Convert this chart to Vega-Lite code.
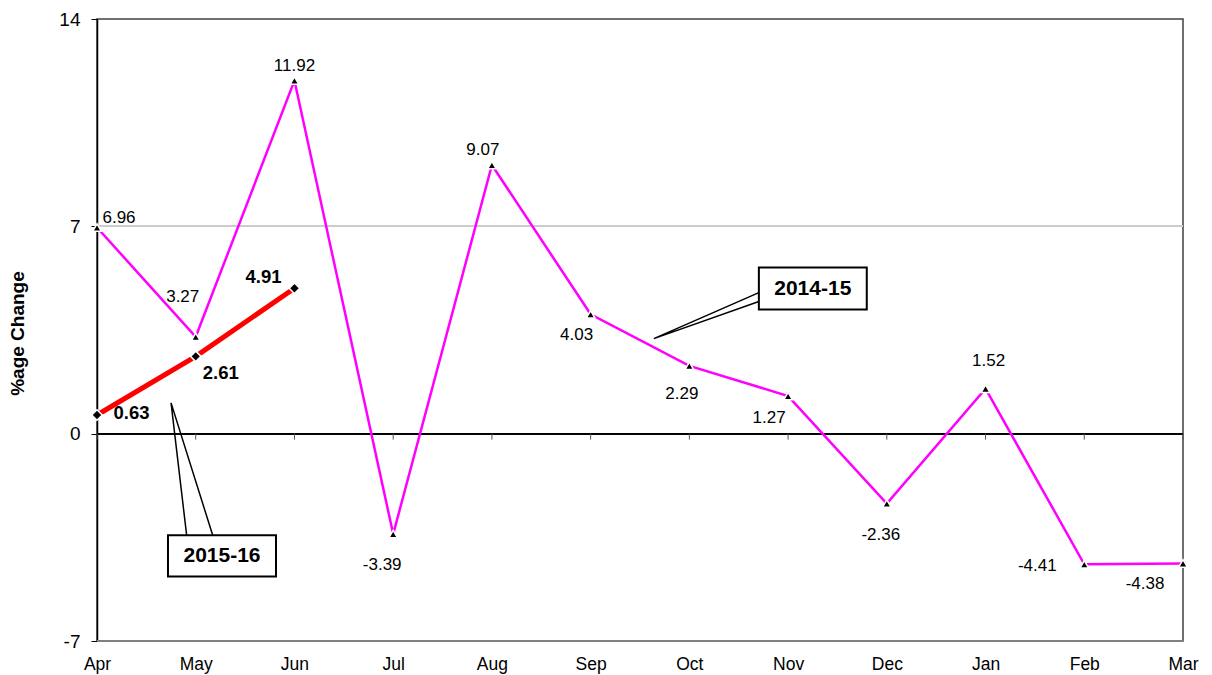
{
  "$schema": "https://vega.github.io/schema/vega-lite/v6.json",
  "width": 1086,
  "height": 622,
  "autosize": {"type": "none"},
  "padding": {"left": 97, "top": 19, "right": 29, "bottom": 34},
  "background": "white",
  "config": {
    "font": "Liberation Sans",
    "view": {"stroke": "#404040", "strokeWidth": 1.5},
    "text": {"font": "Liberation Sans", "fontSize": 17, "color": "black"}
  },
  "datasets": {
    "s1": [
      {"m": "Apr", "i": 0, "v": 6.96},
      {"m": "May", "i": 1, "v": 3.27},
      {"m": "Jun", "i": 2, "v": 11.92},
      {"m": "Jul", "i": 3, "v": -3.39},
      {"m": "Aug", "i": 4, "v": 9.07},
      {"m": "Sep", "i": 5, "v": 4.03},
      {"m": "Oct", "i": 6, "v": 2.29},
      {"m": "Nov", "i": 7, "v": 1.27},
      {"m": "Dec", "i": 8, "v": -2.36},
      {"m": "Jan", "i": 9, "v": 1.52},
      {"m": "Feb", "i": 10, "v": -4.41},
      {"m": "Mar", "i": 11, "v": -4.38}
    ],
    "s2": [
      {"m": "Apr", "i": 0, "v": 0.63},
      {"m": "May", "i": 1, "v": 2.61},
      {"m": "Jun", "i": 2, "v": 4.91}
    ],
    "callout": [
      {"g": "a", "k": 0, "x": 6.704, "y": 4.76},
      {"g": "a", "k": 1, "x": 5.64, "y": 3.21},
      {"g": "a", "k": 2, "x": 6.704, "y": 4.46},
      {"g": "b", "k": 0, "x": 0.908, "y": -3.43},
      {"g": "b", "k": 1, "x": 0.75, "y": 1.04},
      {"g": "b", "k": 2, "x": 1.172, "y": -3.43}
    ],
    "boxes": [
      {"label": "2014-15", "x1": 6.704, "x2": 7.797, "y1": 5.61, "y2": 4.19, "cx": 7.25, "cy": 4.87},
      {"label": "2015-16", "x1": 0.719, "x2": 1.813, "y1": -3.43, "y2": -4.82, "cx": 1.266, "cy": -4.14}
    ]
  },
  "layer": [
    {
      "data": {"name": "s1"},
      "mark": {"type": "rule", "color": "#cccccc", "strokeWidth": 1.5},
      "encoding": {
        "x": {"datum": 0, "type": "quantitative", "scale": {"domain": [0, 11], "nice": false, "zero": false},
          "axis": {"values": [0,1,2,3,4,5,6,7,8,9,10,11],
            "labelExpr": "['Apr','May','Jun','Jul','Aug','Sep','Oct','Nov','Dec','Jan','Feb','Mar'][datum.value]",
            "grid": false, "domain": false, "ticks": false, "tickSize": 0, "labelPadding": 14,
            "labelFontSize": 17.5, "labelColor": "black", "labelFlush": false, "labelOverlap": false, "title": null}},
        "x2": {"datum": 11},
        "y": {"datum": 7, "type": "quantitative", "scale": {"domain": [-7, 14], "nice": false, "zero": false},
          "axis": {"values": [-7, 0, 7, 14], "labelExpr": "'' + datum.value", "grid": false, "domainColor": "black", "domainWidth": 1.5,
            "tickColor": "black", "tickSize": 6, "labelPadding": 11, "labelFontSize": 19, "labelColor": "black",
            "labelFlush": false, "title": "%age Change", "titleFontSize": 19, "titleFontWeight": "bold",
            "titleColor": "black", "titleX": -79.5, "titleY": 314, "titleAngle": -90, "titleAlign": "center",
            "titleBaseline": "middle"}}
      }
    },
    {
      "data": {"name": "s1"},
      "mark": {"type": "rule", "color": "black", "strokeWidth": 1.2},
      "encoding": {"x": {"datum": 0, "type": "quantitative"}, "x2": {"datum": 11}, "y": {"datum": 0, "type": "quantitative"}}
    },
    {
      "data": {"name": "s1"},
      "mark": {"type": "rule", "color": "#555555", "strokeWidth": 1},
      "encoding": {"x": {"field": "i", "type": "quantitative"}, "y": {"datum": 0, "type": "quantitative"}, "y2": {"datum": -0.2}}
    },
    {
      "data": {"name": "s1"},
      "mark": {"type": "rule", "color": "#808080", "strokeWidth": 1.5},
      "encoding": {"x": {"datum": 0, "type": "quantitative"}, "x2": {"datum": 11}, "y": {"datum": -7, "type": "quantitative"}}
    },
    {
      "data": {"name": "s1"},
      "mark": {"type": "line", "color": "#ff00ff", "strokeWidth": 2.5},
      "encoding": {"x": {"field": "i", "type": "quantitative"}, "y": {"field": "v", "type": "quantitative"}}
    },
    {
      "data": {"name": "s2"},
      "mark": {"type": "line", "color": "#ff0000", "strokeWidth": 5},
      "encoding": {"x": {"field": "i", "type": "quantitative"}, "y": {"field": "v", "type": "quantitative"}}
    },
    {
      "data": {"name": "s1"},
      "mark": {"type": "point", "shape": "triangle-up", "filled": true, "color": "black", "size": 75, "opacity": 1, "stroke": "white", "strokeWidth": 1.5},
      "encoding": {"x": {"field": "i", "type": "quantitative"}, "y": {"field": "v", "type": "quantitative"}}
    },
    {
      "data": {"name": "s2"},
      "mark": {"type": "point", "shape": "diamond", "filled": true, "color": "black", "size": 110, "opacity": 1, "stroke": "white", "strokeWidth": 1.5},
      "encoding": {"x": {"field": "i", "type": "quantitative"}, "y": {"field": "v", "type": "quantitative"}}
    },
    {"data": {"name": "s1"}, "transform": [{"filter": "datum.m == 'Apr'"}], "mark": {"type": "text", "dx": 22, "dy": -10},
      "encoding": {"x": {"field": "i", "type": "quantitative"}, "y": {"field": "v", "type": "quantitative"}, "text": {"field": "v", "type": "nominal"}}},
    {"data": {"name": "s1"}, "transform": [{"filter": "datum.m == 'May'"}], "mark": {"type": "text", "dx": -13, "dy": -40},
      "encoding": {"x": {"field": "i", "type": "quantitative"}, "y": {"field": "v", "type": "quantitative"}, "text": {"field": "v", "type": "nominal"}}},
    {"data": {"name": "s1"}, "transform": [{"filter": "datum.m == 'Jun'"}], "mark": {"type": "text", "dx": 0, "dy": -15},
      "encoding": {"x": {"field": "i", "type": "quantitative"}, "y": {"field": "v", "type": "quantitative"}, "text": {"field": "v", "type": "nominal"}}},
    {"data": {"name": "s1"}, "transform": [{"filter": "datum.m == 'Jul'"}], "mark": {"type": "text", "dx": -11, "dy": 31},
      "encoding": {"x": {"field": "i", "type": "quantitative"}, "y": {"field": "v", "type": "quantitative"}, "text": {"field": "v", "type": "nominal"}}},
    {"data": {"name": "s1"}, "transform": [{"filter": "datum.m == 'Aug'"}], "mark": {"type": "text", "dx": -9, "dy": -15},
      "encoding": {"x": {"field": "i", "type": "quantitative"}, "y": {"field": "v", "type": "quantitative"}, "text": {"field": "v", "type": "nominal"}}},
    {"data": {"name": "s1"}, "transform": [{"filter": "datum.m == 'Sep'"}], "mark": {"type": "text", "dx": -14, "dy": 21},
      "encoding": {"x": {"field": "i", "type": "quantitative"}, "y": {"field": "v", "type": "quantitative"}, "text": {"field": "v", "type": "nominal"}}},
    {"data": {"name": "s1"}, "transform": [{"filter": "datum.m == 'Oct'"}], "mark": {"type": "text", "dx": -7.5, "dy": 28},
      "encoding": {"x": {"field": "i", "type": "quantitative"}, "y": {"field": "v", "type": "quantitative"}, "text": {"field": "v", "type": "nominal"}}},
    {"data": {"name": "s1"}, "transform": [{"filter": "datum.m == 'Nov'"}], "mark": {"type": "text", "dx": -19, "dy": 22},
      "encoding": {"x": {"field": "i", "type": "quantitative"}, "y": {"field": "v", "type": "quantitative"}, "text": {"field": "v", "type": "nominal"}}},
    {"data": {"name": "s1"}, "transform": [{"filter": "datum.m == 'Dec'"}], "mark": {"type": "text", "dx": -6, "dy": 31},
      "encoding": {"x": {"field": "i", "type": "quantitative"}, "y": {"field": "v", "type": "quantitative"}, "text": {"field": "v", "type": "nominal"}}},
    {"data": {"name": "s1"}, "transform": [{"filter": "datum.m == 'Jan'"}], "mark": {"type": "text", "dx": 3, "dy": -28},
      "encoding": {"x": {"field": "i", "type": "quantitative"}, "y": {"field": "v", "type": "quantitative"}, "text": {"field": "v", "type": "nominal"}}},
    {"data": {"name": "s1"}, "transform": [{"filter": "datum.m == 'Feb'"}], "mark": {"type": "text", "dx": -47, "dy": 2},
      "encoding": {"x": {"field": "i", "type": "quantitative"}, "y": {"field": "v", "type": "quantitative"}, "text": {"field": "v", "type": "nominal"}}},
    {"data": {"name": "s1"}, "transform": [{"filter": "datum.m == 'Mar'"}], "mark": {"type": "text", "dx": -38, "dy": 21},
      "encoding": {"x": {"field": "i", "type": "quantitative"}, "y": {"field": "v", "type": "quantitative"}, "text": {"field": "v", "type": "nominal"}}},
    {"data": {"name": "s2"}, "transform": [{"filter": "datum.m == 'Apr'"}], "mark": {"type": "text", "dx": 34.5, "dy": -2.5, "fontWeight": "bold", "fontSize": 18.5},
      "encoding": {"x": {"field": "i", "type": "quantitative"}, "y": {"field": "v", "type": "quantitative"}, "text": {"field": "v", "type": "nominal"}}},
    {"data": {"name": "s2"}, "transform": [{"filter": "datum.m == 'May'"}], "mark": {"type": "text", "dx": 25, "dy": 17, "fontWeight": "bold", "fontSize": 18.5},
      "encoding": {"x": {"field": "i", "type": "quantitative"}, "y": {"field": "v", "type": "quantitative"}, "text": {"field": "v", "type": "nominal"}}},
    {"data": {"name": "s2"}, "transform": [{"filter": "datum.m == 'Jun'"}], "mark": {"type": "text", "dx": -31, "dy": -11, "fontWeight": "bold", "fontSize": 18.5},
      "encoding": {"x": {"field": "i", "type": "quantitative"}, "y": {"field": "v", "type": "quantitative"}, "text": {"field": "v", "type": "nominal"}}},
    {
      "data": {"name": "callout"},
      "mark": {"type": "line", "color": "black", "strokeWidth": 1.5},
      "encoding": {"x": {"field": "x", "type": "quantitative"}, "y": {"field": "y", "type": "quantitative"}, "detail": {"field": "g"}, "order": {"field": "k"}}
    },
    {
      "data": {"name": "boxes"},
      "mark": {"type": "rect", "fill": "white", "stroke": "black", "strokeWidth": 2},
      "encoding": {"x": {"field": "x1", "type": "quantitative"}, "x2": {"field": "x2"}, "y": {"field": "y1", "type": "quantitative"}, "y2": {"field": "y2"}}
    },
    {
      "data": {"name": "boxes"},
      "mark": {"type": "text", "fontWeight": "bold", "fontSize": 21},
      "encoding": {"x": {"field": "cx", "type": "quantitative"}, "y": {"field": "cy", "type": "quantitative"}, "text": {"field": "label"}}
    }
  ]
}
